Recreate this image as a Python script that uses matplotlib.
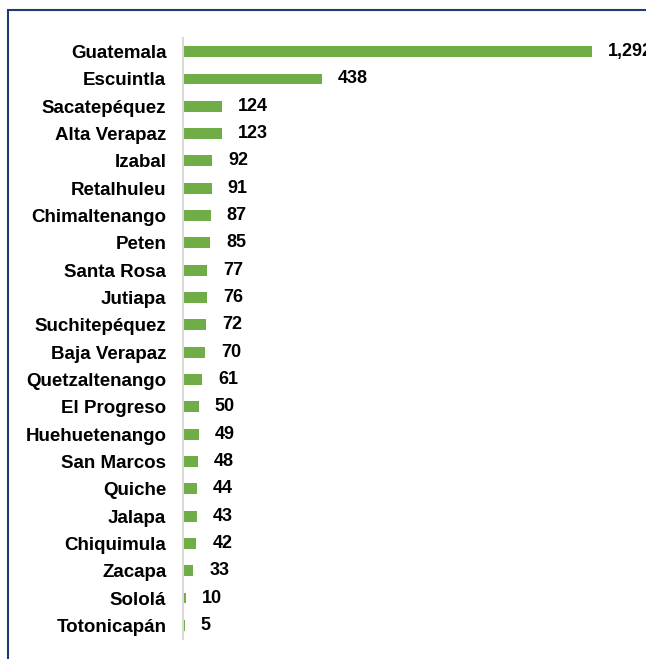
import matplotlib.pyplot as plt
from matplotlib.patches import Rectangle

departamentos = ['Guatemala', 'Escuintla', 'Sacatepéquez', 'Alta Verapaz', 'Izabal',
                 'Retalhuleu', 'Chimaltenango', 'Peten', 'Santa Rosa', 'Jutiapa',
                 'Suchitepéquez', 'Baja Verapaz', 'Quetzaltenango', 'El Progreso',
                 'Huehuetenango', 'San Marcos', 'Quiche', 'Jalapa', 'Chiquimula',
                 'Zacapa', 'Sololá', 'Totonicapán']
casos = [1292, 438, 124, 123, 92, 91, 87, 85, 77, 76, 72, 70, 61, 50, 49, 48,
         44, 43, 42, 33, 10, 5]

plt.rcParams['font.family'] = ['Liberation Sans', 'DejaVu Sans']

fig = plt.figure(figsize=(6.46, 6.59), dpi=100)
W, H = 646, 659
# axes: x from 183 to 592 px, y from 38 to 638 px
ax = fig.add_axes([183 / W, 1 - 639 / H, (592 - 183) / W, (639 - 38) / H])

y = list(range(len(casos)))
ax.barh(y, casos, height=0.4, color='#70AD47')
ax.set_ylim(len(casos) - 0.5, -0.5)
ax.set_xlim(0, max(casos))
ax.set_yticks(y)
ax.set_yticklabels(departamentos, fontsize=13.5, fontweight='bold')
ax.tick_params(axis='y', length=0, pad=12)
ax.set_xticks([])

for s in ['top', 'right', 'bottom']:
    ax.spines[s].set_visible(False)
ax.spines['left'].set_color('#D9D9D9')
ax.spines['left'].set_linewidth(1.5)

for yi, v in zip(y, casos):
    ax.annotate(f'{v:,}', (v, yi), xytext=(11.5, 0), textcoords='offset points',
                va='center', ha='left', fontsize=13, fontweight='bold',
                annotation_clip=False)

# marco del gráfico (cortado a la derecha y abajo)
fig.patches.append(Rectangle((8 / W, -0.05), 1.1, 1 - 10 / H + 0.05,
                             transform=fig.transFigure, fill=False,
                             edgecolor='#1F3B73', linewidth=1.5))

fig.savefig('out.png', dpi=100)
